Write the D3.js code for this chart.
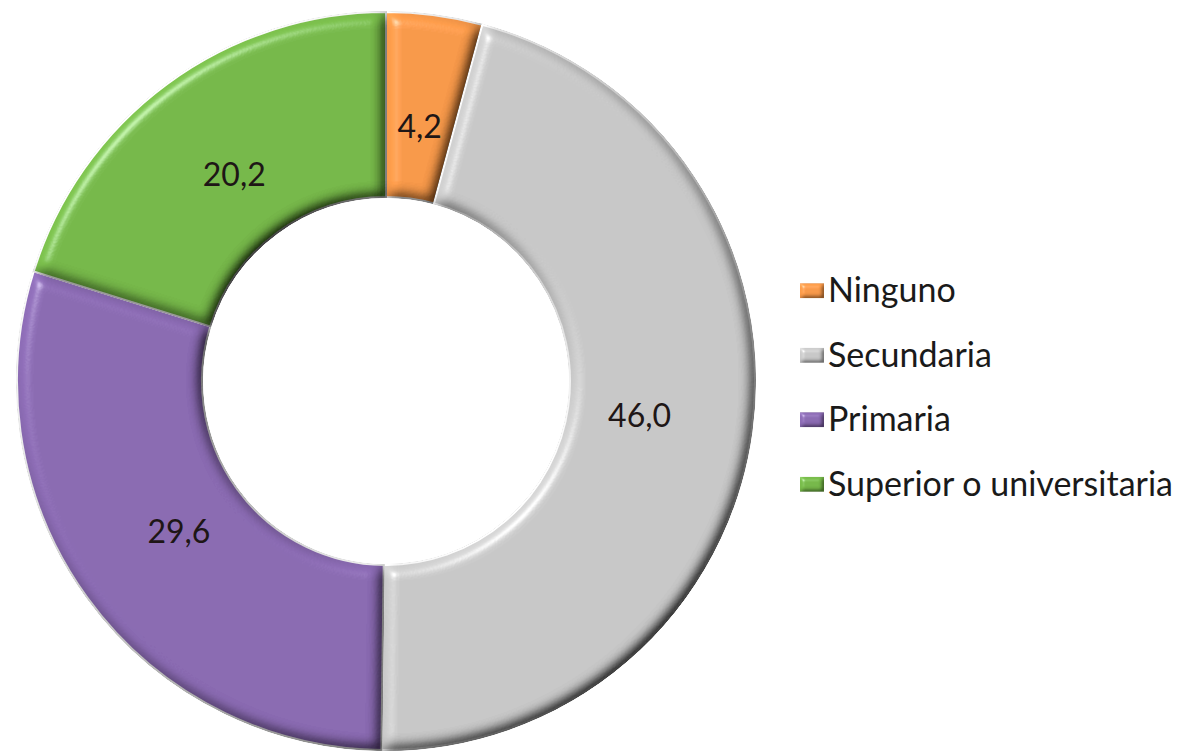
<!DOCTYPE html>
<html>
<head lang="en">
    <meta charset="UTF-8">
    <title></title>
    <style>
        body { margin: 0; background: #fff; }
    </style>
</head>
<body>
<script src="https://cdn.jsdelivr.net/npm/d3@7"></script>
<script>

    var categories = ['Ninguno', 'Secundaria', 'Primaria', 'Superior o universitaria'];
    var values = [4.2, 46.0, 29.6, 20.2];
    var labels = ['4,2', '46,0', '29,6', '20,2'];
    var colors = ['#F99A4A', '#C9C9C9', '#8B6BB3', '#77B94A'];

    var w = 1178,
        h = 753;
    var cx = 386, cy = 381;
    var outerR = 369, innerR = 184;

    var svg = d3.select('body')
            .append('svg')
            .attr('width', w)
            .attr('height', h);

    // bevel look, light from top left
    var defs = svg.append('defs');
    function bevel(id, blur, scale) {
        var f = defs.append('filter')
                .attr('id', id)
                .attr('x', '-10%').attr('y', '-10%')
                .attr('width', '120%').attr('height', '120%');
        f.append('feGaussianBlur').attr('in', 'SourceAlpha').attr('stdDeviation', blur).attr('result', 'blur');
        var diff = f.append('feDiffuseLighting')
                .attr('in', 'blur').attr('surfaceScale', scale).attr('diffuseConstant', 1)
                .attr('lighting-color', '#fff').attr('result', 'diff');
        diff.append('feDistantLight').attr('azimuth', 225).attr('elevation', 55);
        f.append('feComposite').attr('in', 'SourceGraphic').attr('in2', 'diff')
                .attr('operator', 'arithmetic').attr('k1', 1.2).attr('k2', 0).attr('k3', 0).attr('k4', 0)
                .attr('result', 'lit');
        var spec = f.append('feSpecularLighting')
                .attr('in', 'blur').attr('surfaceScale', scale).attr('specularConstant', 0.7)
                .attr('specularExponent', 45).attr('lighting-color', '#fff').attr('result', 'spec');
        spec.append('feDistantLight').attr('azimuth', 225).attr('elevation', 40);
        f.append('feComposite').attr('in', 'spec').attr('in2', 'SourceAlpha').attr('operator', 'in').attr('result', 'specIn');
        f.append('feComposite').attr('in', 'lit').attr('in2', 'specIn')
                .attr('operator', 'arithmetic').attr('k1', 0).attr('k2', 1).attr('k3', 0.45).attr('k4', 0)
                .attr('result', 'all');
        f.append('feComposite').attr('in', 'all').attr('in2', 'SourceAlpha').attr('operator', 'in');
    }
    bevel('bevel', 7, 11);
    bevel('bevelSmall', 2, 3);

    var pie = d3.pie().sort(null).value(function(d) { return d; });
    var arcs = pie(values);

    var arc = d3.arc().innerRadius(innerR).outerRadius(outerR);
    var labelArc = d3.arc().innerRadius(innerR + 72).outerRadius(innerR + 72);

    var g = svg.append('g').attr('transform', 'translate(' + cx + ',' + cy + ')');

    g.selectAll('path')
            .data(arcs)
            .enter()
            .append('path')
            .attr('d', arc)
            .attr('fill', function(d, i) { return colors[i]; })
            .attr('stroke', '#f2f2f2')
            .attr('stroke-width', 2)
            .attr('filter', 'url(#bevel)');

    g.selectAll('text')
            .data(arcs)
            .enter()
            .append('text')
            .text(function(d, i) { return labels[i]; })
            .attr('transform', function(d) { return 'translate(' + labelArc.centroid(d) + ')'; })
            .attr('text-anchor', 'middle')
            .attr('dy', '0.35em')
            .attr('font-family', 'Lato, sans-serif')
            .attr('font-size', '32px')
            .attr('fill', '#1e1616');

    // legend
    var legY = d3.scaleBand().domain(categories).range([258, 516]);

    var leg = svg.append('g').selectAll('g')
            .data(categories)
            .enter()
            .append('g')
            .attr('transform', function(d) { return 'translate(800,' + (legY(d) + legY.bandwidth() / 2) + ')'; });

    leg.append('rect')
            .attr('x', 0).attr('y', -7)
            .attr('width', 24).attr('height', 15)
            .attr('fill', function(d, i) { return colors[i]; })
            .attr('filter', 'url(#bevelSmall)');

    leg.append('text')
            .text(function(d) { return d; })
            .attr('x', 28)
            .attr('dy', '0.35em')
            .attr('font-family', 'Lato, sans-serif')
            .attr('font-size', '34px')
            .attr('fill', '#1a1a1a');

</script>
</body>
</html>
